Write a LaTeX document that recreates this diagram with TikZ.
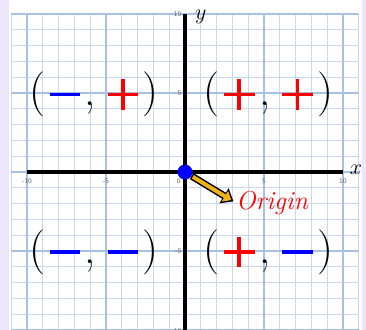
\documentclass[tikz,border=0pt]{standalone}
\usepackage{fix-cm}
\usepackage{amsmath,amssymb}
\usepackage{tikz}
\usetikzlibrary{positioning,arrows.meta}
\usepackage{xcolor}
\definecolor{lav}{RGB}{237,230,250}
\definecolor{gridminor}{RGB}{200,217,238}
\definecolor{gridmajor}{RGB}{166,193,227}
\definecolor{arrgold}{RGB}{240,178,20}
% thick signs
\newcommand{\mns}{\textcolor{blue}{\hspace{0.1em}\rule[0.21em]{0.68em}{0.08em}\hspace{0.1em}}}
\newcommand{\pls}{\textcolor{red}{\hspace{0.1em}\rule[0.21em]{0.68em}{0.08em}%
  \hspace{-0.38em}\rule[-0.09em]{0.08em}{0.68em}\hspace{0.4em}}}

\begin{document}
\begin{tikzpicture}[
    x=15.8pt, y=15.8pt,
    quad/.style={font=\fontsize{45}{45}\selectfont, inner sep=0pt},
    tick/.style={font=\sffamily\fontsize{7}{7}\selectfont, text=black!60, inner sep=1pt},
    axlbl/.style={font=\fontsize{22}{22}\selectfont, inner sep=0pt},
    minor/.style={gridminor, line width=1.2pt},
    major/.style={gridmajor, line width=1.3pt}
  ]
  % --- Paper ---
  \fill[lav] (-11.71,-10) rectangle (11.46,10.89);
  \fill[white] (-11.15,-10) rectangle (11.2,10.89);
  \useasboundingbox (-11.71,-10) rectangle (11.46,10.89);
  \foreach \i in {-11,...,11} \draw[minor] (\i,-10) -- (\i,10);
  \foreach \j in {-10,...,10} \draw[minor] (-11,\j) -- (11,\j);
  \foreach \i in {-10,-5,0,5,10} {
    \draw[major] (\i,-10) -- (\i,10);
    \draw[major] (-11,\i) -- (11,\i);
  }

  % --- Axes ---
  \draw[line width=3.5pt] (-10,0) -- (10,0);
  \draw[line width=3.5pt] (0,-10) -- (0,10);
  \node[axlbl] (xlbl) at (10.82,0.15) {$x$};
  \node[axlbl] (ylbl) at (1.0,9.8) {$y$};
  % tick labels
  \node[tick] (xm10) at (-10,-0.6) {-10};
  \node[tick] (xm5) at (-5,-0.6) {-5};
  \node[tick] (x0) at (-0.4,-0.6) {0};
  \node[tick] (x5) at (5,-0.6) {5};
  \node[tick] (x10) at (10,-0.6) {10};
  \node[tick, anchor=east] (y10) at (-0.15,10.0) {10};
  \node[tick, anchor=east] (y5) at (-0.15,5) {5};
  \node[tick, anchor=east] (ym5) at (-0.15,-5) {-5};
  \node[tick, anchor=east] (ym10) at (-0.15,-10.05) {-10};

  % --- Quadrants ---
  \node[quad] (q2) at (-5.76,4.9) {(\mns,\,\pls)};
  \node[quad] (q1) at (5.28,4.9) {(\pls,\,\pls)};
  \node[quad] (q3) at (-5.76,-5.06) {(\mns,\,\mns)};
  \node[quad] (q4) at (5.28,-5.06) {(\pls,\,\mns)};

  % --- Origin ---
  \node[circle, fill=blue, minimum size=15pt, inner sep=0pt] (orig) at (0,0) {};
  \node[red, font=\fontsize{26}{26}\selectfont\itshape, inner sep=0pt, anchor=west]
    (origlbl) at (3.23,-1.96) {Origin};
  \draw[line width=7pt, -{Triangle[width=17pt,length=11pt]}, shorten >=3pt]
    (orig) -- (origlbl.west);
  \draw[arrgold, line width=4pt, -{Triangle[width=12pt,length=7.5pt]},
    shorten >=5.5pt, shorten <=1.5pt] (orig) -- (origlbl.west);
\end{tikzpicture}
\end{document}
